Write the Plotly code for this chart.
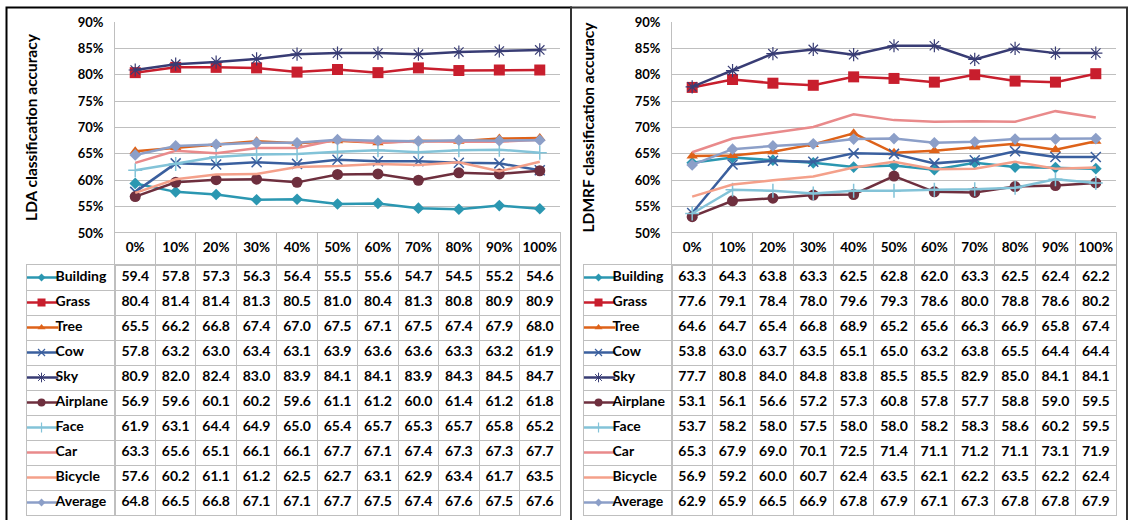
import plotly.graph_objects as go

categories = ["0%", "10%", "20%", "30%", "40%", "50%", "60%", "70%", "80%", "90%", "100%"]
series_names = ["Building", "Grass", "Tree", "Cow", "Sky", "Airplane", "Face", "Car", "Bicycle", "Average"]

# LDA classification accuracy (%)
lda_building = [59.4, 57.8, 57.3, 56.3, 56.4, 55.5, 55.6, 54.7, 54.5, 55.2, 54.6]
lda_grass = [80.4, 81.4, 81.4, 81.3, 80.5, 81.0, 80.4, 81.3, 80.8, 80.9, 80.9]
lda_tree = [65.5, 66.2, 66.8, 67.4, 67.0, 67.5, 67.1, 67.5, 67.4, 67.9, 68.0]
lda_cow = [57.8, 63.2, 63.0, 63.4, 63.1, 63.9, 63.6, 63.6, 63.3, 63.2, 61.9]
lda_sky = [80.9, 82.0, 82.4, 83.0, 83.9, 84.1, 84.1, 83.9, 84.3, 84.5, 84.7]
lda_airplane = [56.9, 59.6, 60.1, 60.2, 59.6, 61.1, 61.2, 60.0, 61.4, 61.2, 61.8]
lda_face = [61.9, 63.1, 64.4, 64.9, 65.0, 65.4, 65.7, 65.3, 65.7, 65.8, 65.2]
lda_car = [63.3, 65.6, 65.1, 66.1, 66.1, 67.7, 67.1, 67.4, 67.3, 67.3, 67.7]
lda_bicycle = [57.6, 60.2, 61.1, 61.2, 62.5, 62.7, 63.1, 62.9, 63.4, 61.7, 63.5]
lda_average = [64.8, 66.5, 66.8, 67.1, 67.1, 67.7, 67.5, 67.4, 67.6, 67.5, 67.6]

# LDMRF classification accuracy (%)
ldmrf_building = [63.3, 64.3, 63.8, 63.3, 62.5, 62.8, 62.0, 63.3, 62.5, 62.4, 62.2]
ldmrf_grass = [77.6, 79.1, 78.4, 78.0, 79.6, 79.3, 78.6, 80.0, 78.8, 78.6, 80.2]
ldmrf_tree = [64.6, 64.7, 65.4, 66.8, 68.9, 65.2, 65.6, 66.3, 66.9, 65.8, 67.4]
ldmrf_cow = [53.8, 63.0, 63.7, 63.5, 65.1, 65.0, 63.2, 63.8, 65.5, 64.4, 64.4]
ldmrf_sky = [77.7, 80.8, 84.0, 84.8, 83.8, 85.5, 85.5, 82.9, 85.0, 84.1, 84.1]
ldmrf_airplane = [53.1, 56.1, 56.6, 57.2, 57.3, 60.8, 57.8, 57.7, 58.8, 59.0, 59.5]
ldmrf_face = [53.7, 58.2, 58.0, 57.5, 58.0, 58.0, 58.2, 58.3, 58.6, 60.2, 59.5]
ldmrf_car = [65.3, 67.9, 69.0, 70.1, 72.5, 71.4, 71.1, 71.2, 71.1, 73.1, 71.9]
ldmrf_bicycle = [56.9, 59.2, 60.0, 60.7, 62.4, 63.5, 62.1, 62.2, 63.5, 62.2, 62.4]
ldmrf_average = [62.9, 65.9, 66.5, 66.9, 67.8, 67.9, 67.1, 67.3, 67.8, 67.8, 67.9]

lda_series = [lda_building, lda_grass, lda_tree, lda_cow, lda_sky,
              lda_airplane, lda_face, lda_car, lda_bicycle, lda_average]
ldmrf_series = [ldmrf_building, ldmrf_grass, ldmrf_tree, ldmrf_cow, ldmrf_sky,
                ldmrf_airplane, ldmrf_face, ldmrf_car, ldmrf_bicycle, ldmrf_average]

# ---- styles ----
line_colors = ["#2B97B1", "#C81E2D", "#DE6219", "#3A5F9E", "#383C74",
               "#6E2F3E", "#83C3D8", "#E98A8B", "#F4A08A", "#8C9FC8"]
marker_style = [
    dict(symbol="diamond", size=9),
    dict(symbol="square", size=11),
    dict(symbol="triangle-up", size=10),
    dict(symbol="x-thin-open", size=10, line=dict(width=1.5, color="#8AA2D0")),
    dict(symbol="asterisk-open", size=11, line=dict(width=1.2, color="#9A9CD0")),
    dict(symbol="circle", size=11),
    dict(symbol="cross-thin-open", size=10, line=dict(width=1.5, color="#9FD0E0")),
    None,
    None,
    dict(symbol="diamond", size=9),
]
legend_marker_style = [
    dict(symbol="diamond", size=6),
    dict(symbol="square", size=8),
    dict(symbol="triangle-up", size=7),
    dict(symbol="x-thin-open", size=7, line=dict(width=1.2, color="#8AA2D0")),
    dict(symbol="asterisk-open", size=8, line=dict(width=1.0, color="#9A9CD0")),
    dict(symbol="circle", size=8),
    dict(symbol="cross-thin-open", size=7, line=dict(width=1.2, color="#9FD0E0")),
    None,
    None,
    dict(symbol="diamond", size=6),
]

W, H = 1129, 520
GRID = "#BFBFBF"
FONT = "Lato"


def px(x):
    return x / W


def py(y):
    return 1 - y / H


fig = go.Figure()

panels = [
    dict(series=lda_series, title="LDA classification accuracy",
         plot_x=(115, 560), legend_x=(27, 115), ax0=1),
    dict(series=ldmrf_series, title="LDMRF classification accuracy",
         plot_x=(672, 1116), legend_x=(584, 672), ax0=5),
]

chart_dom = [py(233), py(22)]
header_dom = [py(265), py(233)]
table_dom = [py(515), py(265)]

layout_axes = {}
for p in panels:
    a = p["ax0"]
    ids = [a, a + 1, a + 2, a + 3]
    names = ["" if i == 1 else str(i) for i in ids]
    xn = ["x" + n for n in names]
    yn = ["y" + n for n in names]
    xd = [px(p["plot_x"][0]), px(p["plot_x"][1])]
    ld = [px(p["legend_x"][0]), px(p["legend_x"][1])]

    # chart
    for vals, name, col, ms in zip(p["series"], series_names, line_colors, marker_style):
        tr = dict(x=categories, y=vals, name=name, xaxis=xn[0], yaxis=yn[0],
                  line=dict(color=col, width=2.5), hoverinfo="skip")
        if ms is None:
            tr["mode"] = "lines"
        else:
            m = dict(ms)
            m.setdefault("color", col)
            tr["mode"] = "lines+markers"
            tr["marker"] = m
        fig.add_trace(go.Scatter(**tr))

    # header row
    fig.add_trace(go.Scatter(x=categories, y=["hdr"] * len(categories), mode="text",
                             text=categories, xaxis=xn[1], yaxis=yn[1],
                             textfont=dict(family=FONT, size=13.5, color="black", weight="bold"),
                             hoverinfo="skip"))
    # table values
    for vals, name in zip(p["series"], series_names):
        fig.add_trace(go.Scatter(x=categories, y=[name] * len(vals), mode="text",
                                 text=[f"{v:.1f}" for v in vals], xaxis=xn[2], yaxis=yn[2],
                                 textfont=dict(family=FONT, size=14, color="black", weight="bold"),
                                 hoverinfo="skip"))
    # legend keys
    for name, col, lm in zip(series_names, line_colors, legend_marker_style):
        fig.add_trace(go.Scatter(x=[0.165], y=[name], mode="markers", xaxis=xn[3], yaxis=yn[3],
                                 marker=dict(symbol="line-ew", size=24,
                                             line=dict(color=col, width=2.5)),
                                 hoverinfo="skip"))
        if lm is not None:
            m = dict(lm)
            m.setdefault("color", col)
            fig.add_trace(go.Scatter(x=[0.165], y=[name], mode="markers", xaxis=xn[3],
                                     yaxis=yn[3], marker=m, hoverinfo="skip"))
    fig.add_trace(go.Scatter(x=[0.325] * len(series_names), y=series_names, mode="text",
                             text=series_names, textposition="middle right",
                             xaxis=xn[3], yaxis=yn[3],
                             textfont=dict(family=FONT, size=14, color="black", weight="bold"),
                             hoverinfo="skip"))

    cat_x = dict(type="category", categoryorder="array", categoryarray=categories,
                 range=[-0.5, len(categories) - 0.5], fixedrange=True, automargin=False)
    # chart axes
    layout_axes["xaxis" + names[0]] = dict(cat_x, domain=xd, anchor=yn[0], showticklabels=False,
                                          showgrid=False, zeroline=False, showline=False, ticks="")
    layout_axes["yaxis" + names[0]] = dict(domain=chart_dom, anchor=xn[0], range=[50, 90], dtick=5,
                                          ticksuffix="%", showgrid=True, gridcolor=GRID, gridwidth=1,
                                          showline=True, linecolor=GRID, linewidth=1, zeroline=False,
                                          ticks="", fixedrange=True, automargin=False,
                                          ticklabelstandoff=8,
                                          tickfont=dict(family=FONT, size=13, color="black", weight="bold"),
                                          title=dict(text=p["title"], standoff=36,
                                                     font=dict(family=FONT, size=15.5, color="black",
                                                               weight="bold")))
    # header axes
    layout_axes["xaxis" + names[1]] = dict(cat_x, domain=xd, anchor=yn[1], showticklabels=False,
                                          tickson="boundaries", ticks="", showgrid=True,
                                          gridcolor=GRID, showline=True, mirror=True,
                                          linecolor=GRID, zeroline=False)
    layout_axes["yaxis" + names[1]] = dict(domain=header_dom, anchor=xn[1], type="category",
                                          categoryarray=["hdr"], range=[-0.5, 0.5],
                                          showticklabels=False, showgrid=False, showline=True,
                                          mirror=True, linecolor=GRID, zeroline=False,
                                          fixedrange=True, automargin=False)
    # table axes
    layout_axes["xaxis" + names[2]] = dict(cat_x, domain=xd, anchor=yn[2], showticklabels=False,
                                          tickson="boundaries", ticks="", showgrid=True,
                                          gridcolor=GRID, showline=True, mirror=True,
                                          linecolor=GRID, zeroline=False)
    cat_y = dict(type="category", categoryorder="array", categoryarray=series_names,
                 range=[len(series_names) - 0.5, -0.5], fixedrange=True, automargin=False)
    layout_axes["yaxis" + names[2]] = dict(cat_y, domain=table_dom, anchor=xn[2],
                                          showticklabels=False, tickson="boundaries", ticks="",
                                          showgrid=True, gridcolor=GRID, showline=True,
                                          mirror=True, linecolor=GRID, zeroline=False)
    # legend column axes
    layout_axes["xaxis" + names[3]] = dict(domain=ld, anchor=yn[3], range=[0, 1],
                                          showticklabels=False, showgrid=False, zeroline=False,
                                          showline=True, mirror=True, linecolor=GRID, ticks="",
                                          fixedrange=True, automargin=False)
    layout_axes["yaxis" + names[3]] = dict(cat_y, domain=table_dom, anchor=xn[3],
                                          showticklabels=False, tickson="boundaries", ticks="",
                                          showgrid=True, gridcolor=GRID, showline=True,
                                          mirror=True, linecolor=GRID, zeroline=False)

fig.update_layout(**layout_axes)

fig.update_layout(
    width=W, height=H,
    margin=dict(l=0, r=0, t=0, b=0, autoexpand=False),
    paper_bgcolor="white", plot_bgcolor="white",
    showlegend=False,
    font=dict(family=FONT, color="black"),
    shapes=[
        dict(type="rect", xref="paper", yref="paper", x0=px(6.5), x1=px(571), y0=-0.05, y1=py(7.5),
             line=dict(color="black", width=2), layer="above"),
        dict(type="rect", xref="paper", yref="paper", x0=px(571), x1=px(1127), y0=-0.05, y1=py(7.5),
             line=dict(color="#333333", width=2), layer="above"),
    ],
)

fig.write_html("out.html", config={"displayModeBar": False},
               post_script="document.body.style.margin='0';document.body.style.padding='0';")
